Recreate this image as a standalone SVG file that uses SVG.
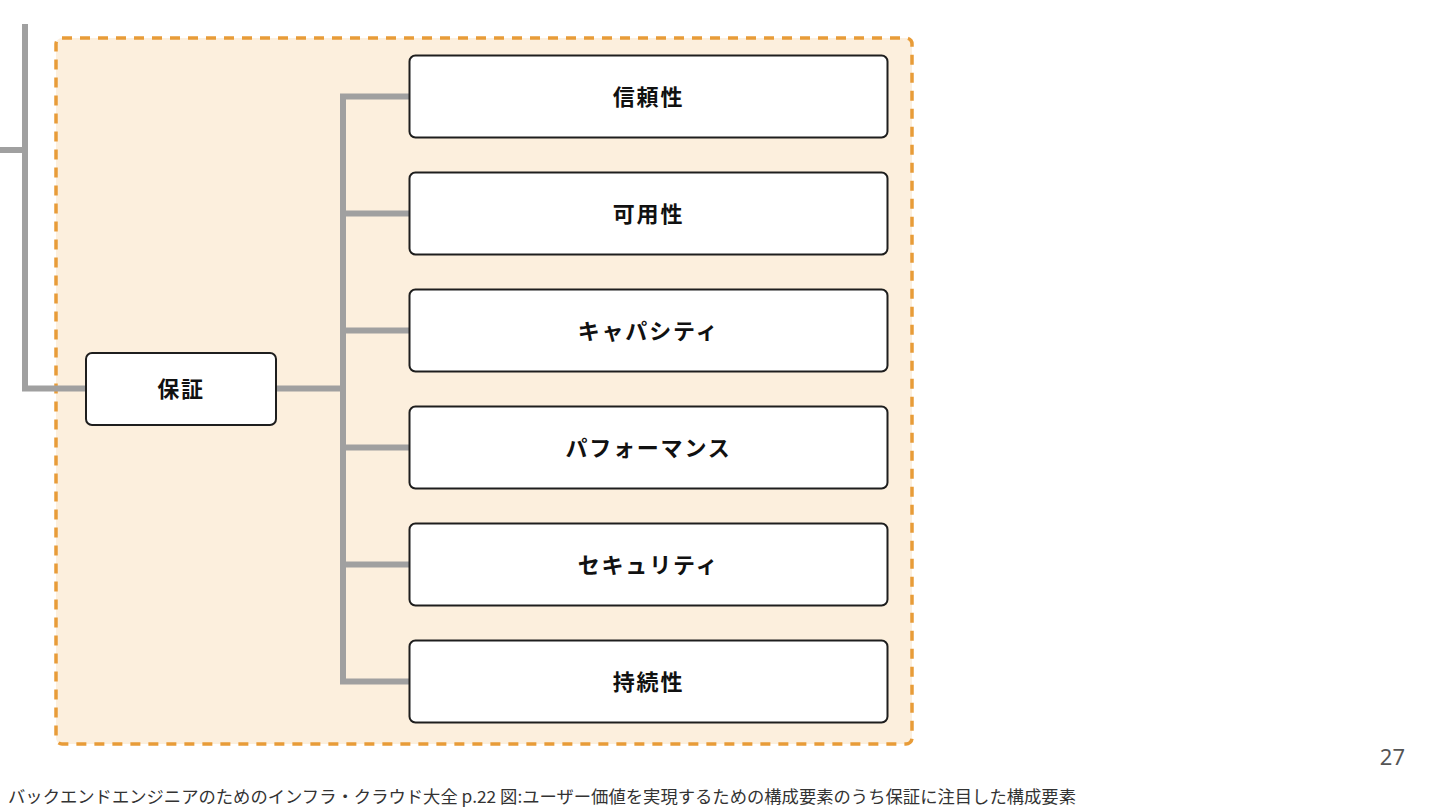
<svg xmlns="http://www.w3.org/2000/svg" width="1440" height="810" viewBox="0 0 1440 810">
<style>
.node rect{fill:#fff;stroke:#1e1e1e;stroke-width:2}
.node text{font-family:"Noto Sans CJK JP","Noto Sans",sans-serif;font-weight:bold;font-size:22px;fill:#111;text-anchor:middle;dominant-baseline:central;letter-spacing:1.8px}
.conn{fill:none;stroke:#a0a0a0;stroke-width:6}
</style>
<rect width="1440" height="810" fill="#fff"/>
<rect id="group" x="56" y="38" width="856" height="706" rx="6" fill="#fcefdd" stroke="#e89c38" stroke-width="3.5" stroke-dasharray="10 8"/>
<g id="connectors">
<path class="conn" d="M0 150 H25 M25 24 V388.5 H86"/>
<path class="conn" d="M276 388.5 H343 M343 96.5 V681.5"/>
<path class="conn" d="M340 96.5 H410 M343 213.5 H410 M343 330.5 H410 M343 447.5 H410 M343 564.5 H410 M340 681.5 H410"/>
</g>
<g id="hosho" class="node"><rect x="86" y="353" width="190" height="72" rx="6"/><text x="181" y="387">保証</text></g>
<g id="shinraisei" class="node"><rect x="409.500" y="55.500" width="478" height="82" rx="6"/><text x="648.500" y="95">信頼性</text></g>
<g id="kayousei" class="node"><rect x="409.500" y="172.500" width="478" height="82" rx="6"/><text x="648.500" y="212">可用性</text></g>
<g id="capacity" class="node"><rect x="409.500" y="289.500" width="478" height="82" rx="6"/><text x="648.500" y="329">キャパシティ</text></g>
<g id="performance" class="node"><rect x="409.500" y="406.500" width="478" height="82" rx="6"/><text x="648.500" y="446">パフォーマンス</text></g>
<g id="security" class="node"><rect x="409.500" y="523.500" width="478" height="82" rx="6"/><text x="648.500" y="563">セキュリティ</text></g>
<g id="jizokusei" class="node"><rect x="409.500" y="640.500" width="478" height="82" rx="6"/><text x="648.500" y="680">持続性</text></g>
<text x="1405" y="765" font-family="'Noto Sans',sans-serif" font-size="22" fill="#555" text-anchor="end">27</text>
<text x="8" y="803" font-family="'Noto Sans CJK JP',sans-serif" font-size="17" fill="#333" textLength="1068" lengthAdjust="spacingAndGlyphs">バックエンドエンジニアのためのインフラ・クラウド大全 p.22 図:ユーザー価値を実現するための構成要素のうち保証に注目した構成要素</text>
</svg>
